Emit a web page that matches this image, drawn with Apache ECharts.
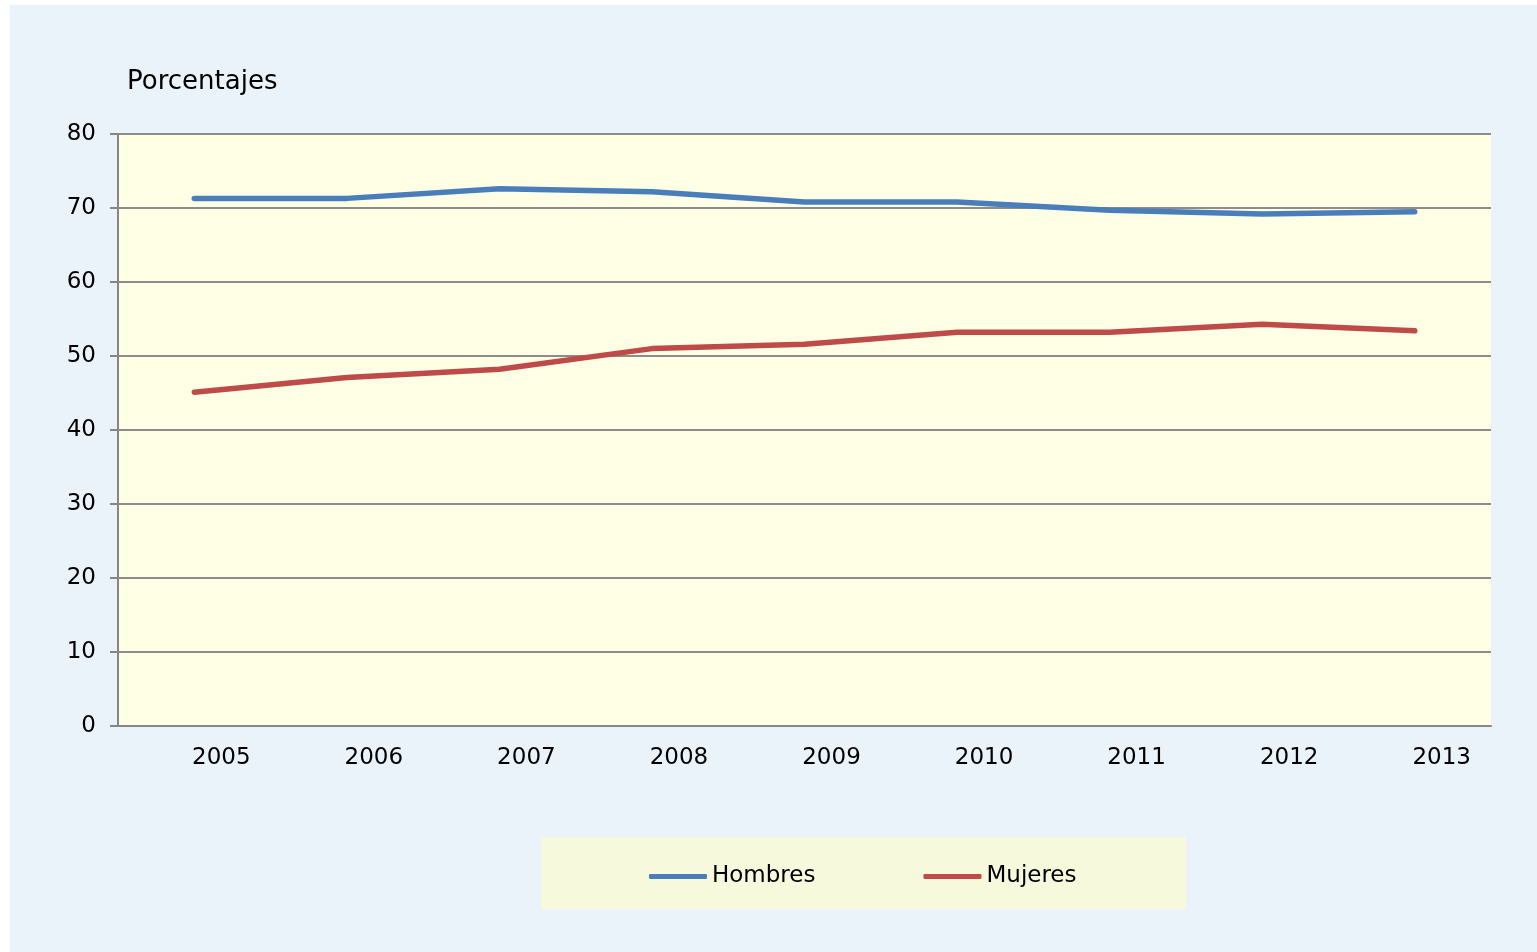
<!DOCTYPE html>
<html>
<head>
<meta charset="utf-8">
<script src="https://cdn.jsdelivr.net/npm/echarts@6/dist/echarts.min.js"></script>
<style>
html,body{margin:0;padding:0;background:#ffffff;}
#chart{position:absolute;left:10px;top:5px;width:1527px;height:947px;}
</style>
</head>
<body>
<div id="chart"></div>
<script>
const categories = ['2005','2006','2007','2008','2009','2010','2011','2012','2013'];
const hombres = [71.3, 71.3, 72.6, 72.2, 70.8, 70.8, 69.7, 69.2, 69.5];
const mujeres = [45.1, 47.1, 48.2, 51.0, 51.6, 53.2, 53.2, 54.3, 53.4];
const yTicks = [0, 10, 20, 30, 40, 50, 60, 70, 80];
const yAxisName = 'Porcentajes';
const seriesNames = ['Hombres', 'Mujeres'];

const chart = echarts.init(document.getElementById('chart'));
const axisFont = 'DejaVu Sans';
chart.setOption({
  backgroundColor: '#EBF3FA',
  animation: false,
  graphic: [{
    type: 'rect', left: 531, top: 832, z: -1,
    shape: { width: 645, height: 72 },
    style: { fill: '#F6F9DC' }
  }, {
    type: 'text', left: 117, top: 64,
    style: { text: yAxisName, font: '26px "DejaVu Sans"', fill: '#000000' }
  }],
  grid: {
    left: 108, right: 46, top: 129, bottom: 226,
    show: true, backgroundColor: '#FFFFE5', borderWidth: 0
  },
  legend: {
    data: seriesNames,
    left: 634, top: 855,
    itemWidth: 58, itemHeight: 5, itemGap: 108,
    icon: 'roundRect',
    textStyle: { fontFamily: 'DejaVu Sans', fontSize: 23, color: '#000' }
  },
  xAxis: {
    type: 'category',
    data: categories,
    boundaryGap: true,
    axisLine: { show: true, lineStyle: { color: '#868686', width: 2 } },
    axisTick: { show: false },
    axisLabel: { color: '#000', fontFamily: axisFont, fontSize: 23, margin: 21, padding: [0,0,0,54] },
    splitLine: { show: false }
  },
  yAxis: {
    type: 'value', min: 0, max: 80, interval: 10,
    axisLine: { show: true, lineStyle: { color: '#868686', width: 2 } },
    axisTick: { show: true, length: 8, lineStyle: { color: '#868686', width: 2 } },
    axisLabel: {
      color: '#000', fontFamily: axisFont, fontSize: 23, margin: 22, padding: [3,0,0,0],
      formatter: v => yTicks.includes(v) ? String(v) : ''
    },
    splitLine: { show: true, lineStyle: { color: '#8C8C8C', width: 2 } }
  },
  series: [{
    name: seriesNames[0], type: 'line', data: hombres,
    showSymbol: false, symbol: 'none',
    lineStyle: { color: '#4A7EBB', width: 5.5, cap: 'round', join: 'round' },
    itemStyle: { color: '#4A7EBB' }
  }, {
    name: seriesNames[1], type: 'line', data: mujeres,
    showSymbol: false, symbol: 'none',
    lineStyle: { color: '#BE4B48', width: 5.5, cap: 'round', join: 'round' },
    itemStyle: { color: '#BE4B48' }
  }]
});
</script>
</body>
</html>
